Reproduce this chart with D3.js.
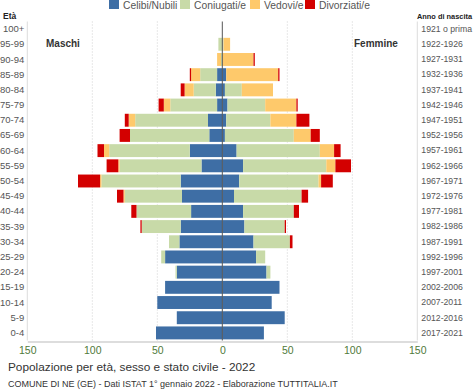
<!DOCTYPE html>
<html>
<head>
<meta charset="utf-8">
<script src="https://cdn.jsdelivr.net/npm/d3@7"></script>
<style>
  body { margin: 0; background: #fff; }
  svg { font-family: "Liberation Sans", Arial, sans-serif; }
</style>
</head>
<body>
<svg id="chart"></svg>
<script>
let w = 474;
let h = 392;

let ages = ["100+", "95-99", "90-94", "85-89", "80-84", "75-79", "70-74", "65-69", "60-64", "55-59",
  "50-54", "45-49", "40-44", "35-39", "30-34", "25-29", "20-24", "15-19", "10-14", "5-9", "0-4"];
let birthYears = ["1921 o prima", "1922-1926", "1927-1931", "1932-1936", "1937-1941", "1942-1946", "1947-1951",
  "1952-1956", "1957-1961", "1962-1966", "1967-1971", "1972-1976", "1977-1981", "1982-1986", "1987-1991",
  "1992-1996", "1997-2001", "2002-2006", "2007-2011", "2012-2016", "2017-2021"];

// maschi
let maleCelibi      = [0, 0, 0, 4, 5, 4, 11, 10, 25, 16, 32, 31, 24, 32, 33, 44, 35, 44, 50, 35, 51];
let maleConiugati   = [0, 3, 1, 13, 17, 36, 56, 61, 62, 63, 61, 44, 42, 30, 8, 3, 1, 0, 0, 0, 0];
let maleVedovi      = [0, 0, 3, 7, 7, 5, 5, 0, 4, 1, 1, 1, 0, 0, 0, 0, 0, 0, 0, 0, 0];
let maleDivorziati  = [0, 0, 0, 1, 3, 4, 3, 8, 5, 9, 17, 5, 4, 1, 0, 0, 0, 0, 0, 0, 0];
// femmine
let femaleNubili    = [0, 0, 0, 3, 2, 4, 3, 2, 11, 16, 13, 9, 16, 17, 24, 26, 34, 44, 38, 48, 32];
let femaleConiugate = [0, 1, 0, 0, 13, 29, 34, 53, 64, 64, 61, 52, 39, 31, 28, 7, 3, 0, 0, 0, 0];
let femaleVedove    = [0, 5, 24, 40, 24, 24, 20, 13, 11, 7, 2, 0, 0, 0, 0, 0, 0, 0, 0, 0, 0];
let femaleDivorziate= [0, 0, 1, 1, 0, 1, 10, 7, 5, 12, 9, 5, 4, 1, 2, 0, 0, 0, 0, 0, 0];

let legendLabels = ["Celibi/Nubili", "Coniugati/e", "Vedovi/e", "Divorziati/e"];
let colors = ["#3e6ea5", "#c8daa8", "#fec96b", "#d30000"];
let xTicks = [-150, -100, -50, 0, 50, 100, 150];

let keys = ["c", "m", "v", "d"];
let males = ages.map((a, i) => ({age: a, c: maleCelibi[i], m: maleConiugati[i], v: maleVedovi[i], d: maleDivorziati[i]}));
let females = ages.map((a, i) => ({age: a, c: femaleNubili[i], m: femaleConiugate[i], v: femaleVedove[i], d: femaleDivorziate[i]}));

let plotTop = 21.5, plotBottom = 340.5;
let x = d3.scaleLinear().domain([-150, 150]).range([27.3, 417.3]);
let y = d3.scaleBand().domain(ages).range([plotTop, plotBottom]).paddingInner(0.15).paddingOuter(0.075);
let yRight = d3.scaleBand().domain(birthYears).range([plotTop, plotBottom]);

let svg = d3.select("#chart").attr("width", w).attr("height", h);

// gridlines
svg.append("g").selectAll("line")
  .data([-100, -50, 50, 100])
  .enter().append("line")
  .attr("x1", d => x(d)).attr("x2", d => x(d))
  .attr("y1", plotTop).attr("y2", plotBottom)
  .attr("stroke", "#cfcfcf").attr("stroke-dasharray", "1,2");

// side lines
svg.append("g").selectAll("line")
  .data([-150, 150])
  .enter().append("line")
  .attr("x1", d => x(d)).attr("x2", d => x(d))
  .attr("y1", plotTop).attr("y2", plotBottom)
  .attr("stroke", "#dddddd");

let stack = d3.stack().keys(keys);

function drawSide(data, sign) {
  let series = stack(data);
  svg.append("g").selectAll("g")
    .data(series)
    .enter().append("g")
    .attr("fill", (d, i) => colors[i])
    .selectAll("rect")
    .data(d => d)
    .enter().append("rect")
    .attr("x", d => Math.min(x(sign * d[0]), x(sign * d[1])))
    .attr("width", d => Math.abs(x(sign * d[1]) - x(sign * d[0])))
    .attr("y", d => y(d.data.age))
    .attr("height", y.bandwidth());
}
drawSide(males, -1);
drawSide(females, 1);

// zero line
svg.append("line")
  .attr("x1", x(0)).attr("x2", x(0))
  .attr("y1", plotTop).attr("y2", plotBottom)
  .attr("stroke", "#555").attr("stroke-width", 1);

// bottom axis
let xAxis = d3.axisBottom(x).tickValues(xTicks).tickSize(0).tickPadding(5).tickFormat(d => Math.abs(d));
let gx = svg.append("g").attr("transform", "translate(0," + (plotBottom + 1) + ")").call(xAxis);
gx.select(".domain").attr("stroke", "#dddddd").attr("stroke-width", 2);
gx.selectAll("text").attr("fill", "#4f7a3a").style("font-size", "10.5px");

// left axis (ages)
let gy = svg.append("g").attr("transform", "translate(" + x(-150) + ",0)")
  .call(d3.axisLeft(y).tickSize(0).tickPadding(3));
gy.select(".domain").remove();
gy.selectAll("text").attr("fill", "#555").style("font-size", "9.5px");

// right axis (birth years)
let gr = svg.append("g").attr("transform", "translate(" + x(150) + ",0)")
  .call(d3.axisRight(yRight).tickSize(0).tickPadding(4));
gr.select(".domain").remove();
gr.selectAll("text").attr("fill", "#555").style("font-size", "8.7px");

// headers
svg.append("text").attr("x", 3).attr("y", 19).text("Età")
  .style("font-size", "8.5px").style("font-weight", "bold").attr("fill", "#222");
svg.append("text").attr("x", 417).attr("y", 19).text("Anno di nascita")
  .style("font-size", "7.4px").style("font-weight", "bold").attr("fill", "#222");
svg.append("text").attr("x", 46).attr("y", 47).text("Maschi")
  .style("font-size", "10px").style("font-weight", "bold").attr("fill", "#333");
svg.append("text").attr("x", 354).attr("y", 47).text("Femmine")
  .style("font-size", "10px").style("font-weight", "bold").attr("fill", "#333");

// legend
let legendX = [109, 180, 250, 305];
let legend = svg.append("g").selectAll("g")
  .data(legendLabels)
  .enter().append("g")
  .attr("transform", (d, i) => "translate(" + legendX[i] + ",-1)");
legend.append("rect").attr("width", 10).attr("height", 10).attr("fill", (d, i) => colors[i]);
legend.append("text").attr("x", 14).attr("y", 9.5).text(d => d)
  .style("font-size", "10.3px").attr("fill", "#555");

// titles
svg.append("text").attr("x", 8).attr("y", 371)
  .text("Popolazione per età, sesso e stato civile - 2022")
  .style("font-size", "11.8px").attr("fill", "#333");
svg.append("text").attr("x", 8).attr("y", 387)
  .text("COMUNE DI NE (GE) - Dati ISTAT 1° gennaio 2022 - Elaborazione TUTTITALIA.IT")
  .style("font-size", "9px").attr("fill", "#333");
</script>
</body>
</html>
